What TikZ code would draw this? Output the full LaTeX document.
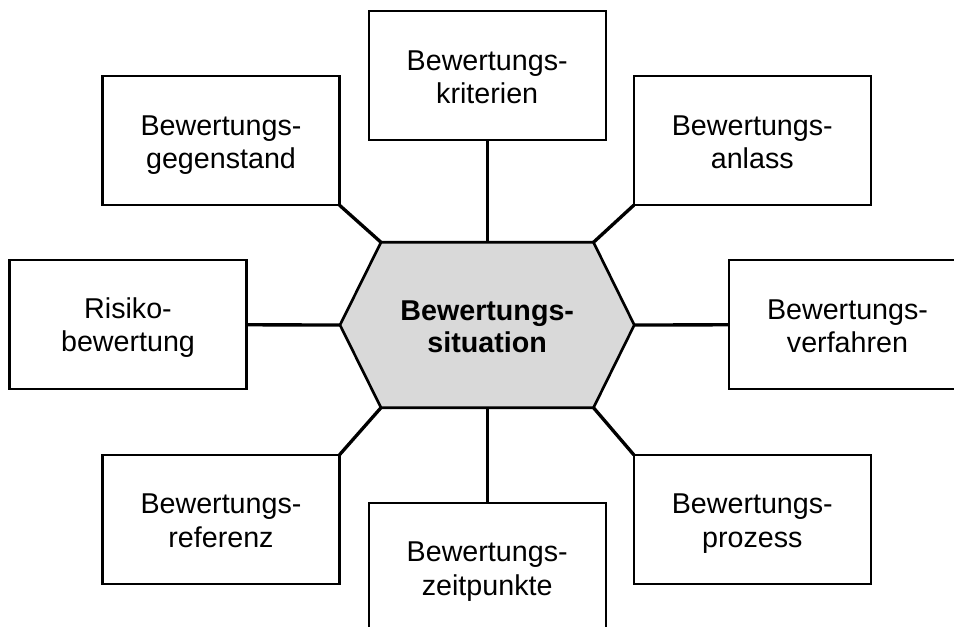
\documentclass[tikz,border=0pt]{standalone}
\usepackage{fontspec}
\setmainfont{Liberation Sans}
% two centred lines; the second baseline sits #1 below the node centre
\newcommand{\stackedlabel}[3]{%
  \raisebox{-#1}[0pt][0pt]{\begin{tabular}[b]{@{}c@{}}#2\\#3\end{tabular}}}
\begin{document}
\begin{tikzpicture}[x=0.75pt,y=-0.75pt,
  topic/.style={draw=black, line width=1.65pt, fill=white, outer sep=0pt,
    inner sep=0pt, minimum width=177.75pt, minimum height=96.75pt,
    font=\fontsize{21.5}{25}\selectfont},
  link/.style={line width=2.5pt, black},
  centre/.style={inner sep=0pt, font=\fontsize{21.5}{24.5}\selectfont\bfseries}]
\useasboundingbox (0,0) rectangle (954,627);

% corner points of the central hexagon
\coordinate (hL)  at (340,325);
\coordinate (hTL) at (381,242.3);
\coordinate (hT)  at (487.2,242.3);
\coordinate (hTR) at (593.5,242.3);
\coordinate (hR)  at (634.3,325);
\coordinate (hBR) at (593.5,407.7);
\coordinate (hB)  at (487.2,407.7);
\coordinate (hBL) at (381,407.7);

% surrounding topics
\node[topic] (kriterien)  at (487.2,75.5)  {\stackedlabel{21pt}{Bewertungs-}{kriterien}};
\node[topic] (gegenstand) at (221,140.7)   {\stackedlabel{21pt}{Bewertungs-}{gegenstand}};
\node[topic] (anlass)     at (752.3,140.7) {\stackedlabel{21pt}{Bewertungs-}{anlass}};
\node[topic] (risiko)     at (128,324.8)   {\stackedlabel{20pt}{Risiko-}{bewertung}};
\node[topic] (verfahren)  at (847.5,324.8) {\stackedlabel{21pt}{Bewertungs-}{verfahren}};
\node[topic] (referenz)   at (221,519.3)   {\stackedlabel{21pt}{Bewertungs-}{referenz}};
\node[topic] (prozess)    at (752.3,519.3) {\stackedlabel{21pt}{Bewertungs-}{prozess}};
\node[topic] (zeitpunkte) at (487.2,567.2) {\stackedlabel{21pt}{Bewertungs-}{zeitpunkte}};

% connectors from the hexagon to each topic
\draw[link] (hT)  -- (kriterien.south);
\draw[link] (hTL) -- (gegenstand.south east);
\draw[link] (hTR) -- (anlass.south west);
\draw[link] (hL)  -- (risiko.east);
\draw[link] (hR)  -- (verfahren.west);
\draw[link] (hBL) -- (referenz.north east);
\draw[link] (hBR) -- (prozess.north west);
\draw[link] (hB)  -- (zeitpunkte.north);

% central hexagon
\draw[line width=2pt, fill={rgb,255:red,217;green,217;blue,217}, line join=miter]
  (hL) -- (hTL) -- (hTR) -- (hR) -- (hBR) -- (hBL) -- cycle;
\node[centre] (situation) at (487.2,325) {\stackedlabel{20.8pt}{Bewertungs-}{situation}};
\end{tikzpicture}
\end{document}
